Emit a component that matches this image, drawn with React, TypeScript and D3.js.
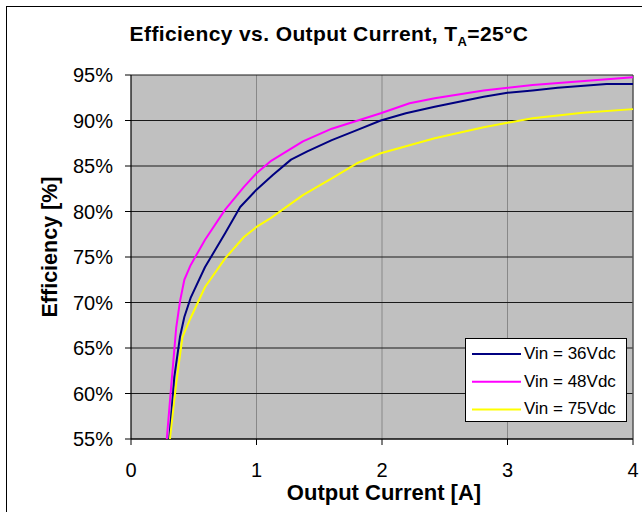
import React from 'react';
import * as d3 from 'd3';

interface Pt { a: number; e: number; }

const SERIES_NAMES = ['Vin = 36Vdc', 'Vin = 48Vdc', 'Vin = 75Vdc'];
const SERIES_COLORS = ['#000080', '#ff00ff', '#ffff00'];

// Output current [A] and efficiency [%]
const X36 = [0.305, 0.345, 0.39, 0.425, 0.475, 0.59, 0.75, 0.87, 1.0, 1.13, 1.275, 1.405, 1.6, 1.8, 1.99, 2.19, 2.42, 2.81, 3.0, 3.2, 3.4, 3.79, 4.0];
const Y36 = [55, 61.8, 66.2, 68.4, 70.5, 73.9, 77.6, 80.5, 82.4, 84.0, 85.7, 86.6, 87.85, 88.95, 90.0, 90.8, 91.5, 92.6, 93.05, 93.3, 93.6, 94.0, 94.0];

const X48 = [0.285, 0.32, 0.36, 0.39, 0.425, 0.475, 0.59, 0.75, 0.9, 1.0, 1.11, 1.37, 1.6, 1.99, 2.22, 2.42, 2.81, 3.2, 4.0];
const Y48 = [55, 60.75, 67.2, 70.1, 72.5, 74.1, 76.9, 80.2, 82.7, 84.2, 85.5, 87.7, 89.1, 90.8, 91.9, 92.45, 93.3, 93.9, 94.75];

const X75 = [0.31, 0.36, 0.41, 0.475, 0.59, 0.75, 0.9, 1.0, 1.11, 1.37, 1.6, 1.8, 1.99, 2.42, 2.81, 3.0, 3.2, 3.6, 4.0];
const Y75 = [55, 61.1, 66.2, 68.3, 71.7, 74.85, 77.2, 78.3, 79.25, 81.8, 83.65, 85.3, 86.4, 88.05, 89.25, 89.75, 90.25, 90.85, 91.25];

const X_TICKS = [0, 1, 2, 3, 4];
const Y_TICKS = [55, 60, 65, 70, 75, 80, 85, 90, 95];

const zip = (xs: number[], ys: number[]): Pt[] => xs.map((a, i) => ({ a, e: ys[i] }));
const SERIES = [zip(X36, Y36), zip(X48, Y48), zip(X75, Y75)];

export default function App() {
  const W = 642, H = 512;
  const left = 131, right = 633, top = 75, bottom = 439;
  const x = d3.scaleLinear().domain([0, 4]).range([left, right]);
  const y = d3.scaleLinear().domain([55, 95]).range([bottom, top]);
  const line = d3.line<Pt>().x(d => x(d.a)).y(d => y(d.e));
  const font = 'Arial, "Liberation Sans", sans-serif';

  // legend box
  const lx = 465, ly = 338, lw = 161, lh = 83;
  const rowY = (i: number) => 354 + i * 27.7;

  return (
    <div style={{ position: 'absolute', left: 0, top: 0 }}>
      <svg width={W} height={H} style={{ display: 'block' }} fontFamily={font}>
        <rect x={0} y={0} width={W} height={H} fill="#fff" />
        <rect x={6.5} y={6.5} width={W + 20} height={H + 20} fill="none" stroke="#000" strokeWidth={1} />
        <text x={329} y={41} textAnchor="middle" fontSize={21} fontWeight="bold" letterSpacing={0.4}>
          Efficiency vs. Output Current, T<tspan fontSize={13} dy={5}>A</tspan><tspan dy={-5}>=25°C</tspan>
        </text>
        <rect x={left} y={top} width={right - left} height={bottom - top} fill="#c0c0c0" />
        {X_TICKS.slice(1, -1).map(t => (
          <line key={'vx' + t} x1={x(t)} x2={x(t)} y1={top} y2={bottom} stroke="#888" strokeWidth={1} />
        ))}
        {Y_TICKS.map(t => (
          <line key={'hy' + t} x1={left} x2={right} y1={y(t)} y2={y(t)} stroke="#1a1a1a" strokeWidth={1.2} />
        ))}
        <line x1={right} x2={right} y1={top} y2={bottom} stroke="#555" strokeWidth={1.5} />
        <line x1={left} x2={left} y1={top} y2={bottom} stroke="#000" strokeWidth={1.2} />
        <line x1={left} x2={right} y1={bottom} y2={bottom} stroke="#000" strokeWidth={1.2} />
        {Y_TICKS.map(t => (
          <g key={'yt' + t}>
            <line x1={left - 6} x2={left} y1={y(t)} y2={y(t)} stroke="#000" />
            <text x={113} y={y(t) + 7} textAnchor="end" fontSize={20}>{t}%</text>
          </g>
        ))}
        {X_TICKS.map(t => (
          <g key={'xt' + t}>
            <line x1={x(t)} x2={x(t)} y1={bottom} y2={bottom + 6} stroke="#000" />
            <text x={x(t)} y={477} textAnchor="middle" fontSize={20}>{t}</text>
          </g>
        ))}
        <defs>
          <clipPath id="plot-clip">
            <rect x={left} y={top - 2} width={right - left + 2} height={bottom - top + 2} />
          </clipPath>
        </defs>
        <g clipPath="url(#plot-clip)">
          {SERIES.map((s, i) => (
            <path key={i} d={line(s) || ''} fill="none" stroke={SERIES_COLORS[i]} strokeWidth={2} strokeLinejoin="round" />
          ))}
        </g>
        <rect x={lx + 0.5} y={ly + 0.5} width={lw} height={lh} fill="#fff" stroke="#000" strokeWidth={1} />
        {SERIES_NAMES.map((n, i) => (
          <g key={n}>
            <line x1={472} x2={521} y1={rowY(i)} y2={rowY(i)} stroke={SERIES_COLORS[i]} strokeWidth={2} />
            <text x={524} y={rowY(i) + 5} fontSize={17}>{n}</text>
          </g>
        ))}
        <text x={384} y={500} textAnchor="middle" fontSize={22} fontWeight="bold">Output Current [A]</text>
        <text transform="translate(57,247) rotate(-90)" textAnchor="middle" fontSize={21.5} fontWeight="bold">Efficiency [%]</text>
      </svg>
    </div>
  );
}
